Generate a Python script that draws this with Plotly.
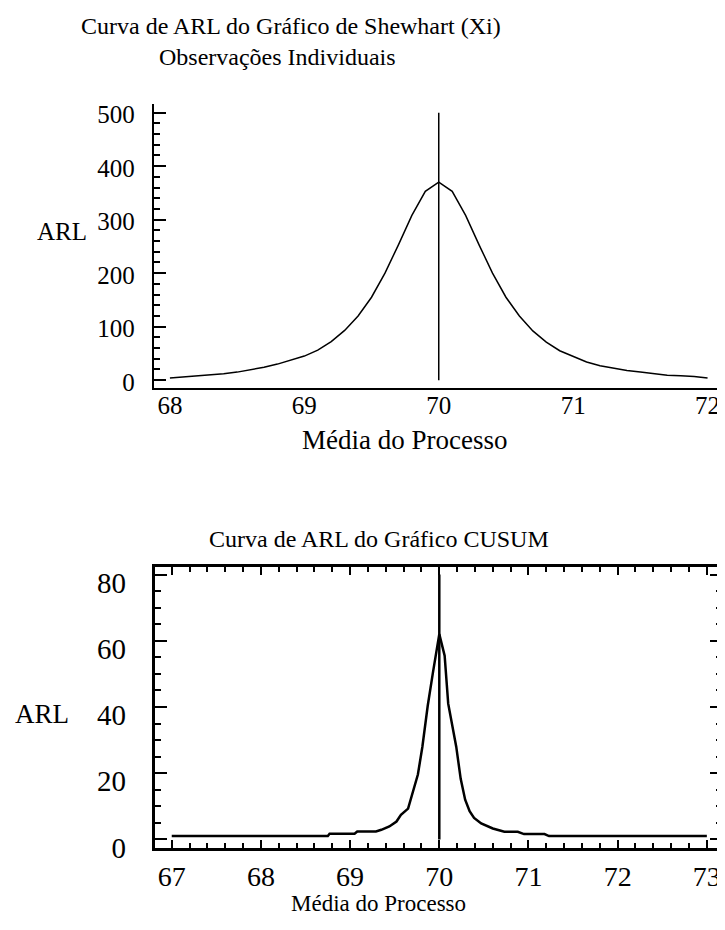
import plotly.graph_objects as go

# ---------------- data ----------------
# Shewhart (Xi) ARL curve
shew_x = [68.0, 68.1, 68.2, 68.3, 68.4, 68.5, 68.6, 68.7, 68.8, 68.9,
          69.0, 69.1, 69.2, 69.3, 69.4, 69.5, 69.6, 69.7, 69.8, 69.9,
          70.0, 70.1, 70.2, 70.3, 70.4, 70.5, 70.6, 70.7, 70.8, 70.9,
          71.0, 71.1, 71.2, 71.3, 71.4, 71.5, 71.6, 71.7, 71.8, 71.9, 72.0]
shew_arl = [4, 6, 7, 9, 12, 15, 19, 24, 30, 38,
            45, 56, 72, 93, 120, 155, 200, 253, 308, 353,
            370, 353, 308, 253, 200, 155, 120, 92, 71, 55,
            44, 34, 27, 22, 18, 15, 12, 9, 8, 7, 4]

# CUSUM ARL curve
cusum_x = [67.0, 68.75, 68.77, 69.05, 69.08, 69.29, 69.35, 69.44, 69.52, 69.57,
           69.65, 69.70, 69.76, 69.81, 69.87, 69.93, 70.0, 70.06, 70.10, 70.19,
           70.24, 70.29, 70.34, 70.39, 70.47, 70.60, 70.73, 70.88, 70.95, 71.18,
           71.23, 73.0]
cusum_arl = [1, 1, 1.7, 1.7, 2.4, 2.4, 2.9, 3.9, 5.4, 7.4,
             9.3, 14.2, 19.6, 27.9, 40.3, 50.6, 62, 55.5, 41, 28,
             18.3, 12, 8.5, 6.5, 4.8, 3.3, 2.3, 2.3, 1.6, 1.6,
             1, 1]

# target mean reference lines
target_mean = 70
shew_ref = [0, 500]
cusum_ref = [0, 80]

shew_xticks = [68, 69, 70, 71, 72]
shew_yticks = [0, 100, 200, 300, 400, 500]
cusum_xticks = [67, 68, 69, 70, 71, 72, 73]
cusum_yticks = [0, 20, 40, 60, 80]

title_top_1 = "Curva de ARL do Gráfico de Shewhart (Xi)"
title_top_2 = "Observações Individuais"
title_bottom = "Curva de ARL do Gráfico CUSUM"
xlabel = "Média do Processo"
ylabel = "ARL"

# ---------------- layout helpers ----------------
W, H = 725, 930
OFF = 8                      # default page margin around the plot div
WF, HF = W - OFF, H - OFF    # figure size so it fills the window
FONT = "Liberation Serif"


def px(x):
    return (x - OFF) / WF


def py(y):
    return 1 - (y - OFF) / HF


fig = go.Figure()

fig.add_trace(go.Scatter(x=shew_x, y=shew_arl, mode="lines",
                         line=dict(color="black", width=1.5),
                         xaxis="x", yaxis="y", showlegend=False))
fig.add_trace(go.Scatter(x=[target_mean, target_mean], y=shew_ref, mode="lines",
                         line=dict(color="black", width=1.5),
                         xaxis="x", yaxis="y", showlegend=False))
fig.add_trace(go.Scatter(x=cusum_x, y=cusum_arl, mode="lines",
                         line=dict(color="black", width=2.5),
                         xaxis="x2", yaxis="y2", showlegend=False))
fig.add_trace(go.Scatter(x=[target_mean, target_mean], y=cusum_ref, mode="lines",
                         line=dict(color="black", width=2.5),
                         xaxis="x2", yaxis="y2", showlegend=False))

fig.update_layout(
    width=WF, height=HF,
    margin=dict(l=0, r=0, t=0, b=0),
    paper_bgcolor="white", plot_bgcolor="white",
    showlegend=False,
    font=dict(family=FONT, color="black"),
    xaxis=dict(
        domain=[px(154), px(722)], anchor="y",
        range=[67.88, 72.10],
        tickvals=shew_xticks, ticks="",
        showline=True, linecolor="black", linewidth=2,
        showgrid=False, zeroline=False,
        ticklabelstandoff=-6,
        tickfont=dict(family=FONT, size=25, color="black"),
    ),
    yaxis=dict(
        domain=[py(393), py(103)], anchor="x",
        range=[-15.6, 516],
        tickvals=shew_yticks, ticks="inside", ticklen=12, tickwidth=2,
        tickcolor="black",
        minor=dict(dtick=20, tick0=0, ticks="inside", ticklen=6,
                   tickwidth=2, tickcolor="black"),
        showline=True, linecolor="black", linewidth=2,
        showgrid=False, zeroline=False,
        ticklabelstandoff=12, ticklabelshift=2,
        tickfont=dict(family=FONT, size=25, color="black"),
    ),
    xaxis2=dict(
        domain=[px(155), px(723)], anchor="y2",
        range=[66.81, 73.17],
        tickvals=cusum_xticks, ticks="inside", ticklen=8, tickwidth=2,
        tickcolor="black",
        minor=dict(dtick=0.2, tick0=67, ticks="inside", ticklen=5,
                   tickwidth=2, tickcolor="black"),
        showline=True, linecolor="black", linewidth=3, mirror="ticks",
        showgrid=False, zeroline=False,
        ticklabelstandoff=1,
        tickfont=dict(family=FONT, size=28, color="black"),
    ),
    yaxis2=dict(
        domain=[py(862), py(575)], anchor="x2",
        range=[-2.7, 82.3],
        tickvals=cusum_yticks, ticks="inside", ticklen=12, tickwidth=2,
        tickcolor="black",
        minor=dict(dtick=5, tick0=0, ticks="inside", ticklen=6,
                   tickwidth=2, tickcolor="black"),
        showline=True, linecolor="black", linewidth=3, mirror="ticks",
        showgrid=False, zeroline=False,
        ticklabelstandoff=20, ticklabelshift=8,
        tickfont=dict(family=FONT, size=29, color="black"),
    ),
)

annotations = [
    dict(text=title_top_1, x=px(291), y=py(23), size=24),
    dict(text=title_top_2, x=px(278), y=py(55), size=24),
    dict(text=ylabel, x=px(62), y=py(233), size=25),
    dict(text=xlabel, x=px(405), y=py(446), size=27),
    dict(text=title_bottom, x=px(380), y=py(547), size=24),
    dict(text=ylabel, x=px(42), y=py(725), size=27),
    dict(text=xlabel, x=px(379), y=py(918), size=23),
]
for a in annotations:
    fig.add_annotation(text=a["text"], x=a["x"], y=a["y"], xref="paper", yref="paper",
                       xanchor="center", yanchor="middle", showarrow=False,
                       font=dict(family=FONT, size=a["size"], color="black"))

fig.write_html("out.html")
